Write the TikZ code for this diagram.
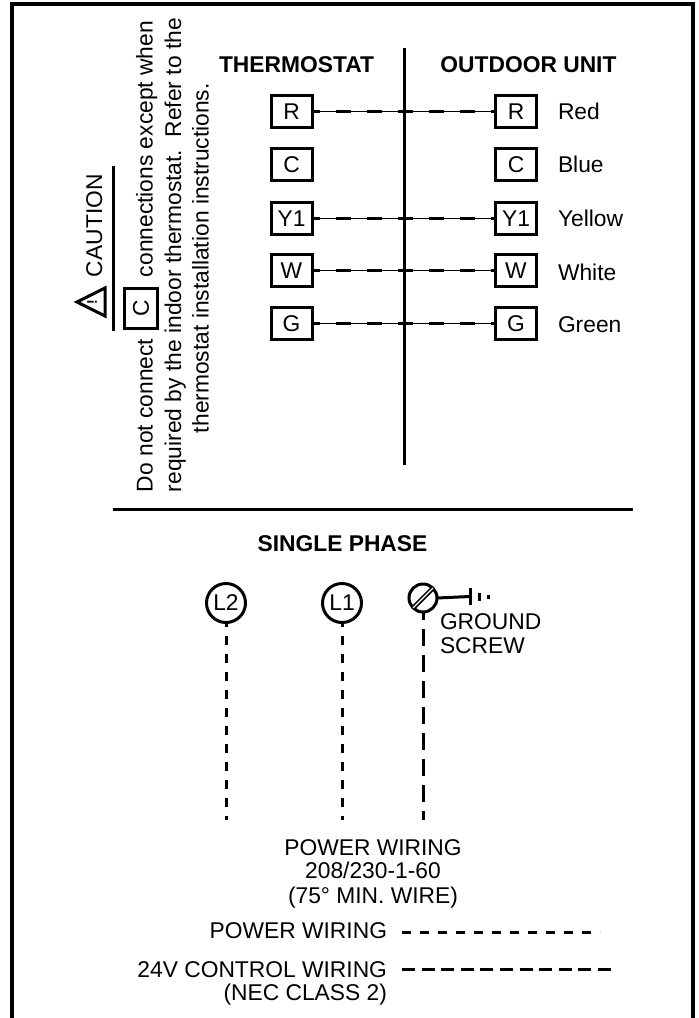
\documentclass[tikz,border=0pt]{standalone}
\usepackage{fontspec}
\setmainfont{Liberation Sans}
\begin{document}
\begin{tikzpicture}[x=1pt,y=-1pt,
  every node/.style={inner sep=0pt,outer sep=0pt,font=\fontsize{22.8}{22.8}\selectfont},
  term/.style={draw,line width=3pt,minimum width=41pt,minimum height=32pt,anchor=center},
  lab/.style={anchor=base west},
  labr/.style={anchor=base east},
  labc/.style={anchor=base},
  hdr/.style={anchor=base,font=\fontsize{22.8}{22.8}\selectfont\bfseries},
  rot/.style={rotate=90,anchor=base west},
  wirethin/.style={line width=1pt},
  wiredash/.style={line width=3.2pt,dash pattern=on 15pt off 16pt,dash phase=7pt},
  rule/.style={line width=3pt},
  powerdash/.style={line width=3pt,dash pattern=on 9pt off 9pt},
  longdash/.style={line width=3pt,dash pattern=on 17pt off 9pt,dash phase=9pt},
  controldash/.style={line width=3pt,dash pattern=on 13pt off 6.6pt},
  lug/.style={draw,circle,line width=3pt,minimum size=39pt}]
\useasboundingbox (0,0) rectangle (699,1018);
% frame
\draw[line width=3.4pt] (12,1018) -- (12,4) -- (693,4) -- (693,1018);
% centre divider and section rule
\coordinate (divT) at (404,48); \coordinate (divB) at (404,465);
\draw[rule] (divT) -- (divB);
\coordinate (secL) at (113,509); \coordinate (secR) at (633,509);
\draw[rule] (secL) -- (secR);
% headers
\node[hdr] (hT) at (296.5,72) {THERMOSTAT};
\node[hdr] (hO) at (528.5,72) {OUTDOOR UNIT};
\node[hdr] (hS) at (342.5,551) {SINGLE PHASE};
% terminals
\foreach \n/\t/\y in {R/R/111.5,C/C/164.5,Y/Y1/218.5,W/W/270.5,G/G/323.5}{
  \node[term] (t\n) at (291.5,\y) {\t};
  \node[term] (o\n) at (516,\y) {\t};
}
\foreach \n in {R,Y,W,G}{
  \draw[wirethin] (t\n.east) -- (o\n.west);
  \draw[wiredash] (t\n.east) -- (o\n.west);
}
\node[lab] (cR) at (558,119) {Red};
\node[lab] (cB) at (558,172.5) {Blue};
\node[lab] (cY) at (558,226) {Yellow};
\node[lab] (cW) at (558,280) {White};
\node[lab] (cG) at (558,332.5) {Green};
% caution block
\node[rot] (cau) at (102,277) {CAUTION};
\coordinate (uT) at (113,166); \coordinate (uB) at (113,331);
\draw[rule] (uT) -- (uB);
\draw[line width=3pt,line join=miter] (77,302) -- (105,288) -- (105,316) -- cycle;
\node[rotate=90,font=\fontsize{14}{14}\selectfont\bfseries] (bang) at (92,302) {!};
\node[draw,line width=3pt,minimum width=33pt,minimum height=40pt] (cbox) at (141,308.5) {};
\node[rotate=90] (cboxt) at (141,308.5) {C};
\node[rot] (l1a) at (152.5,492) {Do not connect};
\node[rot] (l1b) at (152.5,277) {connections except when};
\node[rot] (l2) at (181,492) {required by the indoor thermostat.\ \ Refer to the};
\node[rot] (l3) at (208.5,433) {thermostat installation instructions.};
% supply
\node[lug] (L2) at (226,603) {L2};
\node[lug] (L1) at (342,603) {L1};
\node[lug,minimum size=28pt] (scr) at (423,598) {};
\draw[line width=4.6pt] (scr.225) -- (scr.45);
\draw[line width=1.2pt,white] (scr.225) -- (scr.45);
\coordinate (g1) at (470,596.5);
\draw[line width=3pt] (scr.east) -- (g1);
\coordinate (g1a) at (470,588); \coordinate (g1b) at (470,605);
\coordinate (g2a) at (479,592.5); \coordinate (g2b) at (479,601);
\coordinate (g3a) at (488,594.5); \coordinate (g3b) at (488,599);
\draw[line width=3pt] (g1a) -- (g1b) (g2a) -- (g2b) (g3a) -- (g3b);
\node[lab] (gnd) at (440,629) {GROUND};
\node[lab] (scw) at (440,653) {SCREW};
\coordinate (e2) at (226,820); \coordinate (e1) at (342,820); \coordinate (e3) at (423,820);
\draw[powerdash,dash phase=4.5pt] (L2.south) -- (e2);
\draw[powerdash,dash phase=4.5pt] (L1.south) -- (e1);
\draw[longdash] (scr.south) -- (e3);
% notes
\node[labc] (p1) at (373,855) {POWER WIRING};
\node[labc] (p2) at (373,878) {208/230-1-60};
\node[labc] (p3) at (373,903) {(75° MIN. WIRE)};
\node[labr] (k1) at (387,938) {POWER WIRING};
\node[labr] (k2) at (387,977) {24V CONTROL WIRING};
\node[labr] (k3) at (387,1000) {(NEC CLASS 2)};
\coordinate (k1a) at (402,932); \coordinate (k1b) at (600,932);
\coordinate (k2a) at (402,969); \coordinate (k2b) at (611,969);
\draw[powerdash] (k1a) -- (k1b);
\draw[controldash] (k2a) -- (k2b);
\end{tikzpicture}
\end{document}
